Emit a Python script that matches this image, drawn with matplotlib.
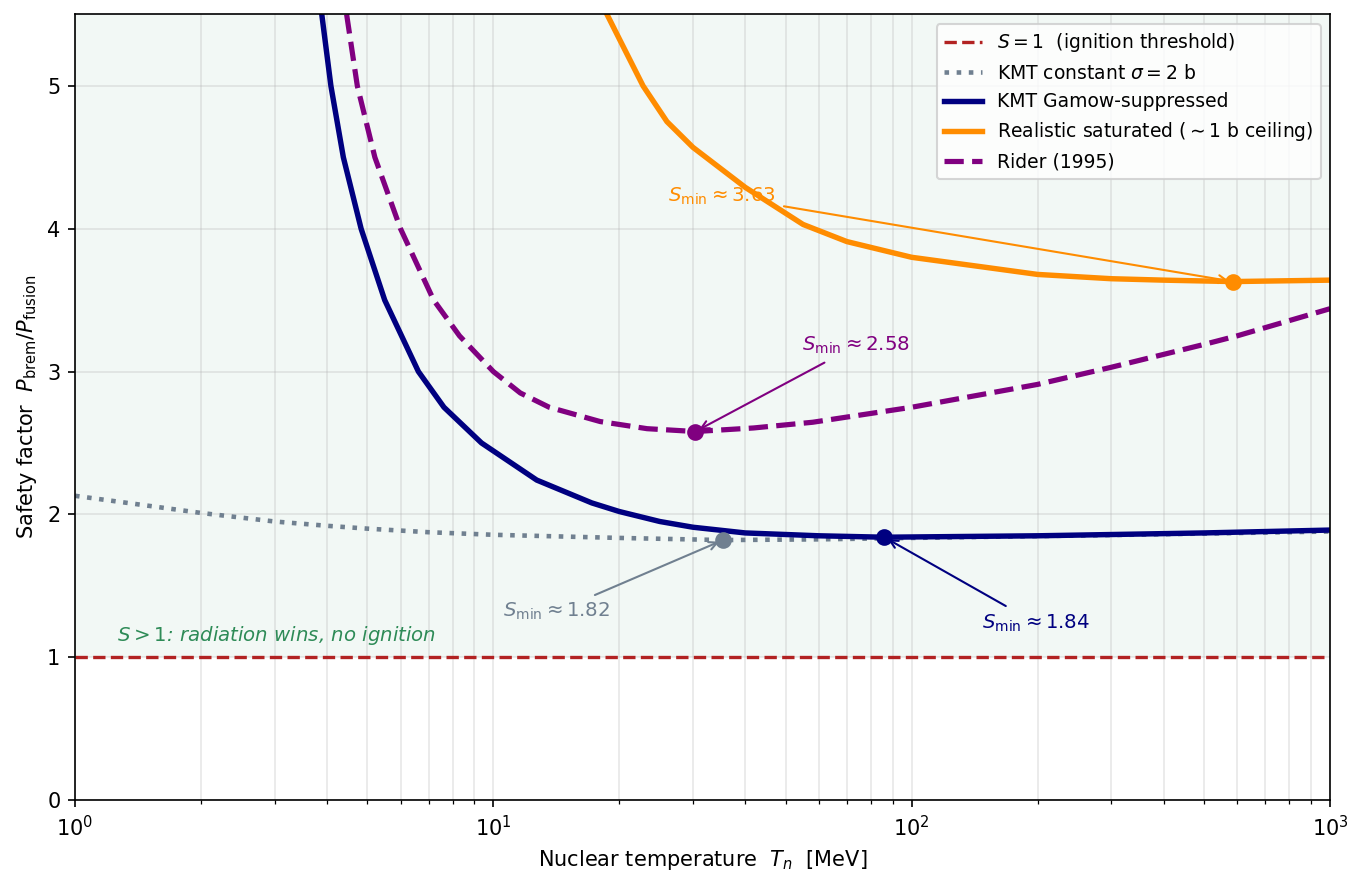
import numpy as np
import matplotlib
matplotlib.use("Agg")
import matplotlib.pyplot as plt

# values (T in MeV, S = P_brem / P_fusion)
T_gamow = [3.89, 4.09, 4.38, 4.83, 5.50, 6.62, 7.62, 9.37, 12.7, 17.2, 20.0, 25.0, 30.0, 40.0, 60.0, 86.0, 200.0, 500.0, 1000.0]
S_gamow = [5.5, 5.0, 4.5, 4.0, 3.5, 3.0, 2.75, 2.5, 2.24, 2.08, 2.02, 1.95, 1.91, 1.87, 1.85, 1.84, 1.85, 1.87, 1.89]

T_const = [1.0, 1.5, 2.0, 3.0, 4.0, 5.0, 7.0, 10.0, 20.0, 35.4, 60.0, 100.0, 300.0, 1000.0]
S_const = [2.13, 2.06, 2.01, 1.95, 1.92, 1.90, 1.875, 1.857, 1.835, 1.82, 1.825, 1.835, 1.855, 1.88]

T_sat = [18.7, 20.0, 22.8, 26.0, 30.0, 40.0, 55.0, 70.0, 100.0, 150.0, 200.0, 300.0, 400.0, 586.0, 1000.0]
S_sat = [5.5, 5.33, 5.0, 4.75, 4.57, 4.29, 4.03, 3.91, 3.80, 3.73, 3.68, 3.65, 3.64, 3.63, 3.64]

T_rider = [4.46, 4.73, 5.21, 6.0, 7.2, 8.3, 10.0, 11.6, 13.6, 18.0, 23.3, 30.4, 41.9, 58.0, 100.0, 200.0, 300.0, 400.0, 500.0, 600.0, 1000.0]
S_rider = [5.5, 5.0, 4.5, 4.0, 3.5, 3.25, 3.0, 2.85, 2.75, 2.65, 2.60, 2.58, 2.605, 2.645, 2.75, 2.91, 3.03, 3.12, 3.19, 3.25, 3.44]

# minima: (T, S)
min_const = (35.4, 1.82)
min_gamow = (86.0, 1.84)
min_sat = (586.0, 3.63)
min_rider = (30.4, 2.58)

fig = plt.figure(figsize=(1363 / 150, 887 / 150), dpi=150)
ax = fig.add_axes([75 / 1363, 1 - 800 / 887, (1330 - 75) / 1363, (800 - 14.5) / 887])

ax.axhspan(1, 5.5, color="#2E8B57", alpha=0.06, lw=0)
ax.axhline(1, color="#B22222", ls="--", lw=1.6, label=r"$S = 1$  (ignition threshold)")
ax.plot(T_const, S_const, color="#708090", ls=":", lw=2.2, label=r"KMT constant $\sigma = 2$ b")
ax.plot(T_gamow, S_gamow, color="navy", lw=2.6, label="KMT Gamow-suppressed")
ax.plot(T_sat, S_sat, color="darkorange", lw=2.6, label=r"Realistic saturated ($\sim1$ b ceiling)")
ax.plot(T_rider, S_rider, color="purple", ls="--", lw=2.5, label="Rider (1995)")


def mark_min(pt, color, text_xy):
    ax.plot(pt[0], pt[1], "o", color=color, ms=7, zorder=5)
    ax.annotate(r"$S_{\rm min} \approx %.2f$" % pt[1], xy=pt, xytext=text_xy,
                color=color, fontsize=9.5, ha="center", va="center",
                arrowprops=dict(arrowstyle="->", color=color, lw=1))


mark_min(min_const, "#708090", (min_const[0] * 0.4, min_const[1] - 0.5))
mark_min(min_gamow, "navy", (min_gamow[0] * 2.3, min_gamow[1] - 0.6))
mark_min(min_sat, "darkorange", (min_sat[0] * 0.06, min_sat[1] + 0.6))
mark_min(min_rider, "purple", (min_rider[0] * 2.42, min_rider[1] + 0.6))

ax.text(1.26, 1.15, r"$S > 1$: radiation wins, no ignition", color="#2E8B57",
        fontsize=9.5, style="italic", va="center")

ax.set_xscale("log")
ax.set_xlim(1, 1000)
ax.set_ylim(0, 5.5)
ax.grid(True, which="both", alpha=0.3)
ax.set_xlabel(r"Nuclear temperature  $T_n$  [MeV]")
ax.set_ylabel(r"Safety factor  $P_{\rm brem}/P_{\rm fusion}$")
ax.legend(loc="upper right", fontsize=9)

fig.savefig("out.png", dpi=150)
